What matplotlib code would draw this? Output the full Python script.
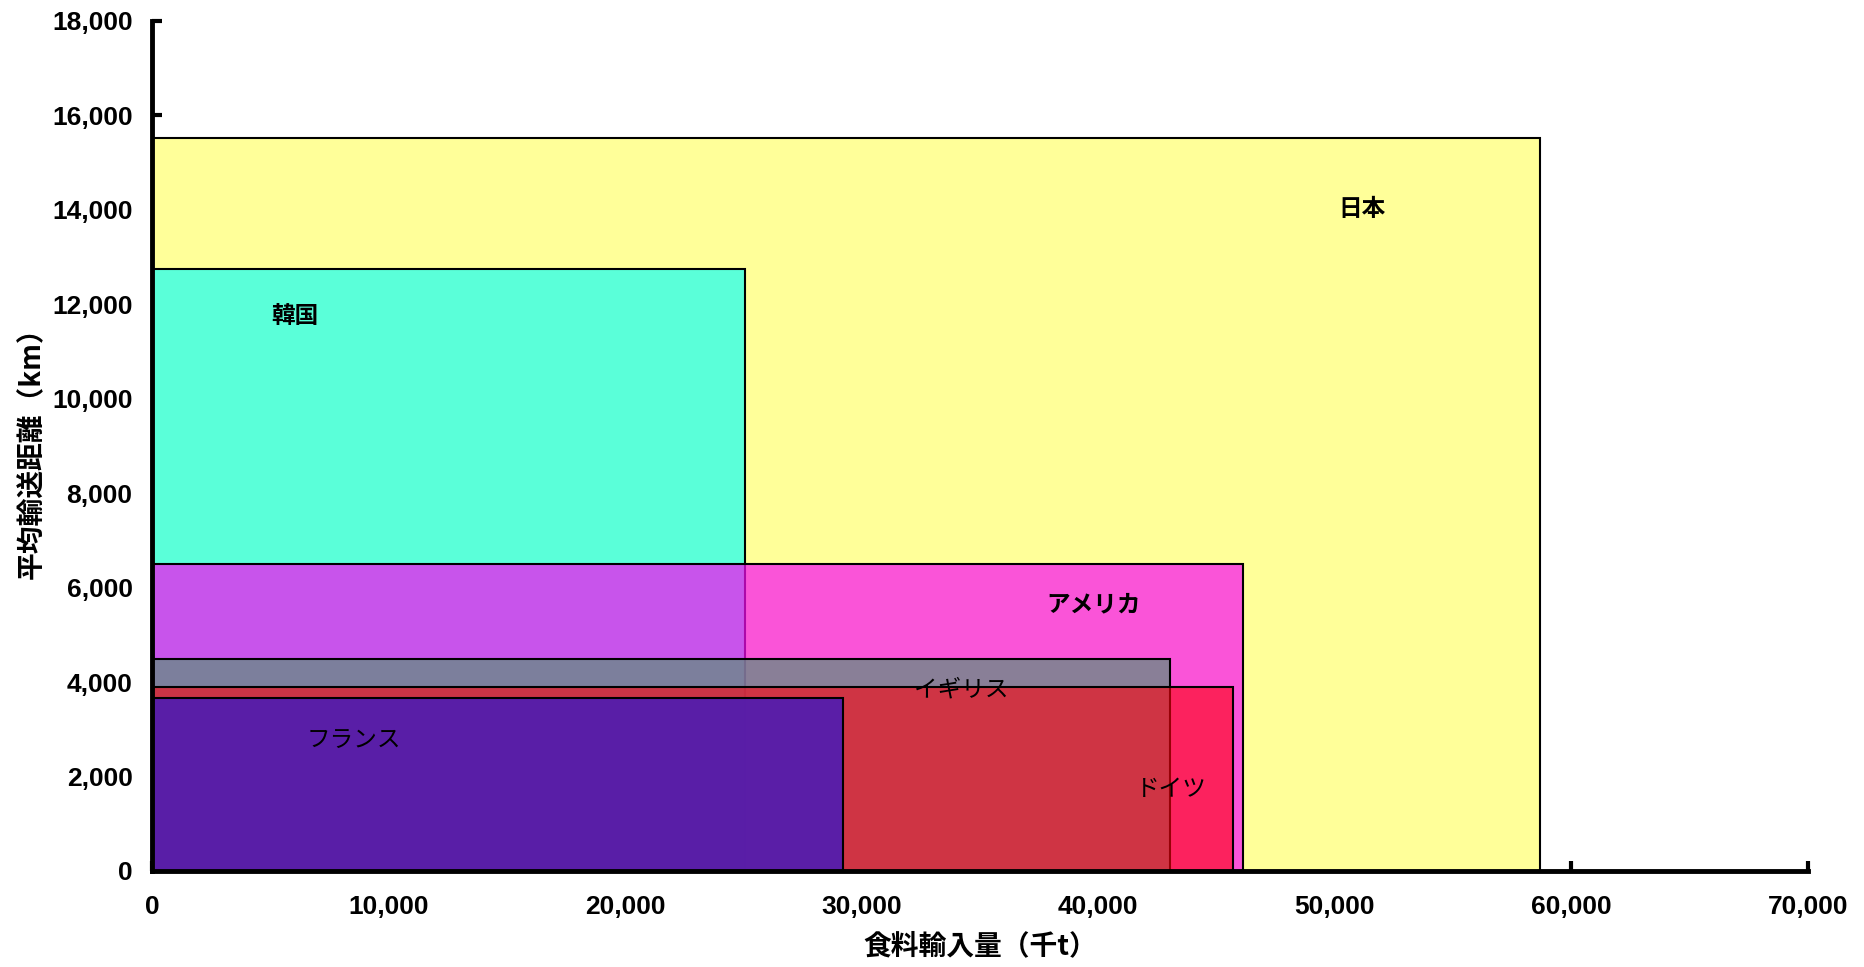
import matplotlib
matplotlib.use("Agg")
import matplotlib.pyplot as plt
from matplotlib.patches import Rectangle
from matplotlib.colors import to_rgba

# food import volume (thousand t) and average transport distance (km)
countries = ["日本", "韓国", "アメリカ", "イギリス", "ドイツ", "フランス"]
imports = [58660, 25060, 46110, 43030, 45690, 29200]
distance = [15520, 12750, 6510, 4480, 3890, 3660]

face_colors = ["#FFFF99", "#5AFFD9", "#F80CF4", "#638E82", "#FF020D", "#4D1CB3"]
alphas = [1.0, 1.0, 0.7, 0.75, 0.6, 0.9]
label_x = [51140, 6040, 39800, 34190, 43100, 8540]
label_y = [14020, 11760, 5650, 3830, 1735, 2770]
label_bold = [True, True, True, False, False, False]

xticks = [0, 10000, 20000, 30000, 40000, 50000, 60000, 70000]
yticks = [0, 2000, 4000, 6000, 8000, 10000, 12000, 14000, 16000, 18000]

jp = ["Noto Sans CJK JP", "DejaVu Sans"]

fig = plt.figure(figsize=(18.65, 9.67), dpi=100)
ax = fig.add_axes([0.0815, 0.0993, 0.8879, 0.879])

for i, (w, h, fc, a) in enumerate(zip(imports, distance, face_colors, alphas)):
    ax.add_patch(Rectangle((0, 0), w, h, facecolor=to_rgba(fc, a),
                           edgecolor="black", linewidth=1.5, zorder=2 + i * 0.1))

for name, x, y, b in zip(countries, label_x, label_y, label_bold):
    ax.text(x, y, name, family=jp, fontsize=17,
            fontweight="bold" if b else "normal",
            ha="center", va="center", zorder=5)

ax.set_xlim(0, 70000)
ax.set_ylim(0, 18000)
ax.set_xticks(xticks)
ax.set_yticks(yticks)
ax.set_xticklabels([f"{v:,}" for v in xticks], family="Liberation Sans",
                   fontweight="bold", fontsize=19)
ax.set_yticklabels([f"{v:,}" for v in yticks], family="Liberation Sans",
                   fontweight="bold", fontsize=19)
ax.tick_params(direction="in", length=7, width=3)
ax.tick_params(axis="x", pad=17)
ax.tick_params(axis="y", pad=14)

for s in ["top", "right"]:
    ax.spines[s].set_visible(False)
for s in ["left", "bottom"]:
    ax.spines[s].set_linewidth(3.5)
    ax.spines[s].set_zorder(6)

ax.set_xlabel("食料輸入量（千t）", family=jp, fontweight="bold",
              fontsize=20, labelpad=10)
ax.set_ylabel("平均輸送距離（km）", family=jp, fontweight="bold",
              fontsize=20, labelpad=4)

fig.savefig("out.png", dpi=100)
